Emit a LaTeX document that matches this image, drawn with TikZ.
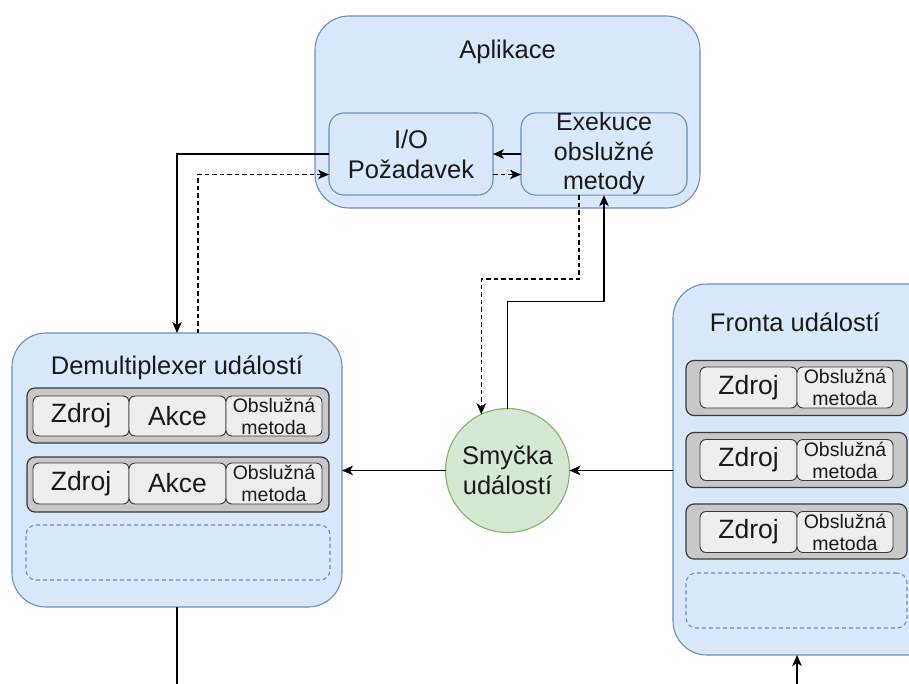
\documentclass[tikz,border=0pt]{standalone}
\usepackage{fontspec}
\setmainfont{Liberation Sans}
\usetikzlibrary{arrows.meta,calc}

\definecolor{bfill}{HTML}{DAE8FC}
\definecolor{bline}{HTML}{6C8EBF}
\definecolor{gfill}{HTML}{D5E8D4}
\definecolor{gline}{HTML}{82B366}
\definecolor{rowfill}{HTML}{C8C8C8}
\definecolor{cellfill}{HTML}{EEEEEE}
\definecolor{darkline}{HTML}{36393D}
\definecolor{ink}{HTML}{1A1A1A}

\newcommand\bigtxt{\fontsize{25.5}{30}\selectfont}
\newcommand\celltxt{\fontsize{26.5}{30}\selectfont}
\newcommand\smalltxt{\fontsize{19.5}{22}\selectfont}

\begin{document}
\begin{tikzpicture}[x=1pt,y=-1pt,
  sz/.style 2 args={minimum width=#1,minimum height=#2},
  panel/.style={draw=bline,fill=bfill,line width=1.1pt,rounded corners=#1,
    inner sep=0pt,outer sep=0pt,text=ink,font=\bigtxt,align=center},
  panel/.default=34pt,
  slot/.style={draw=bline,fill=bfill,line width=1.1pt,rounded corners=10pt,
    dash pattern=on 4pt off 3pt,inner sep=0pt,outer sep=0pt},
  rowbox/.style={draw=darkline,fill=rowfill,line width=1.2pt,rounded corners=8pt,
    inner sep=0pt,outer sep=0pt},
  cell/.style={draw=darkline,fill=cellfill,line width=0.9pt,rounded corners=6pt,
    inner sep=0pt,outer sep=0pt,text=ink,font=\celltxt,align=center},
  smallcell/.style={cell,font=\smalltxt},
  title/.style={text=ink,font=\bigtxt,inner sep=0pt},
  loop/.style={circle,draw=gline,fill=gfill,line width=1.1pt,minimum size=124pt,
    inner sep=0pt,outer sep=0pt,text=ink,font=\bigtxt,align=center},
  conn/.style={draw=black,line width=1.4pt,
    -{Stealth[length=11pt,width=9.5pt,inset=3pt]}},
  dashconn/.style={conn,dash pattern=on 4.5pt off 3pt},
  plain/.style={draw=black,line width=1.4pt}
]
\useasboundingbox (0,0) rectangle (909,684);
\clip (0,0) rectangle (909,684);

% application block
\node[panel,sz={385}{192}] (app) at (507.5,112) {};
\node[title] (apptitle) at (507.5,52) {Aplikace};
\node[panel=15pt,sz={164}{82}] (io) at (411,154) {I/O\\Požadavek};
\node[panel=15pt,sz={166}{82},font={\fontsize{25}{29.5}\selectfont}] (exe) at (604,154)
  {Exekuce\\obslužné\\metody};

% event demultiplexer
\node[panel,sz={330}{274}] (dmx) at (177,470) {};
\node[title] (dmxtitle) at (177,368) {Demultiplexer událostí};
\node[rowbox,sz={302}{55}] (drow1) at (178,415.5) {};
\node[cell,sz={96}{40}] (dsrc1) at (81,416) {Zdroj};
\node[cell,sz={97}{40}] (dact1) at (177.5,416) {Akce};
\node[smallcell,sz={96}{40}] (dhnd1) at (274,416) {Obslužná\\metoda};
\node[rowbox,sz={302}{55}] (drow2) at (178,484.5) {};
\node[cell,sz={96}{41}] (dsrc2) at (81,483.5) {Zdroj};
\node[cell,sz={97}{41}] (dact2) at (177.5,483.5) {Akce};
\node[smallcell,sz={96}{41}] (dhnd2) at (274,483.5) {Obslužná\\metoda};
\node[slot,sz={304}{55}] (dslot) at (178,552.5) {};

% event queue
\node[panel,sz={272}{371}] (fronta) at (809,469.5) {};
\node[title] (frtitle) at (795,322) {Fronta událostí};
\node[rowbox,sz={221}{55}] (frow1) at (796.5,388) {};
\node[cell,sz={97}{41}] (fsrc1) at (748.5,387.5) {Zdroj};
\node[smallcell,sz={96}{41}] (fhnd1) at (845,387.5) {Obslužná\\metoda};
\node[rowbox,sz={221}{55}] (frow2) at (796.5,460) {};
\node[cell,sz={97}{41}] (fsrc2) at (748.5,460) {Zdroj};
\node[smallcell,sz={96}{41}] (fhnd2) at (845,460) {Obslužná\\metoda};
\node[rowbox,sz={221}{55}] (frow3) at (796.5,531.5) {};
\node[cell,sz={97}{41}] (fsrc3) at (748.5,532) {Zdroj};
\node[smallcell,sz={96}{41}] (fhnd3) at (845,532) {Obslužná\\metoda};
\node[slot,sz={221}{55}] (fslot) at (796.5,600.5) {};

% event loop
\node[loop] (circ) at (507.5,470.5) {Smyčka\\událostí};

% connectors
\draw[conn] (io.west) -| (dmx.north);
\draw[dashconn] ([xshift=21pt]dmx.north) |- ([yshift=-20.5pt]io.west);
\draw[conn] (exe.west) -- (io.east);
\draw[dashconn] ([yshift=-20.5pt]io.east) -- ([yshift=-20.5pt]exe.west);
\draw[dashconn] ([xshift=-25pt]exe.south) -- ++(0,84) -| (circ.115);
\draw[conn] (circ.north) -- ++(0,-107) -| (exe.south);
\draw[conn] (circ.east -| fronta.west) -- (circ.east);
\draw[conn] (circ.west) -- (circ.west -| dmx.east);

\coordinate (dmxout) at (177,690);
\coordinate (frin) at (797,690);
\draw[plain] (dmx.south) -- (dmxout);
\draw[conn] (frin) -- (frin |- fronta.south);
\end{tikzpicture}
\end{document}
